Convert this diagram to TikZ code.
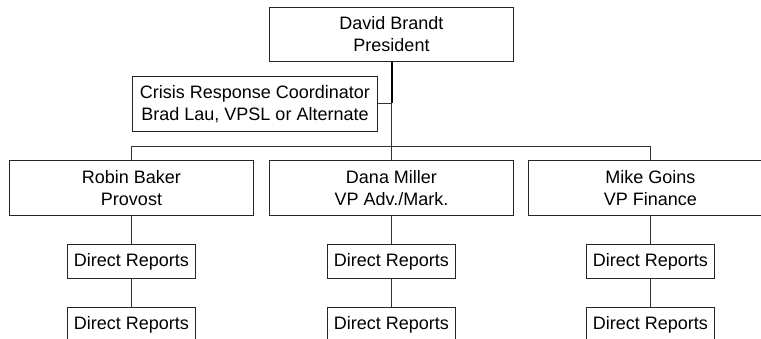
\documentclass[tikz,border=0pt]{standalone}
\usepackage{fontspec}
\setmainfont{Liberation Sans}
\usetikzlibrary{positioning}

\begin{document}
\begin{tikzpicture}[x=1pt, y=-1pt,
    every node/.style={font=\fontsize{18}{22}\selectfont},
    box/.style={draw=black!85, line width=1pt, align=center, inner sep=0pt},
    head/.style={box, minimum width=244pt, minimum height=55pt},
    report/.style={box, minimum width=128pt, minimum height=34pt},
    link/.style={draw=black!80, line width=1pt}]
  \useasboundingbox (-0.5,-0.5) rectangle (760.5,338.5);
  \clip (-0.5,-0.5) rectangle (760.5,338.5);

  % top of the chart
  \node[head, minimum height=54pt] (pres) at (391,34) {David Brandt\\President};
  \node[head, minimum width=245pt] (crisis) at (254.5,103.5)
    {Crisis Response Coordinator\\Brad Lau, VPSL or Alternate};

  % second row
  \node[head] (robin) at (131,187.5) {Robin Baker\\Provost};
  \node[head] (dana) at (391,187.5) {Dana Miller\\VP Adv./Mark.};
  \node[head] (mike) at (650,187.5) {Mike Goins\\VP Finance};

  \coordinate (hub) at (391,103);
  \coordinate (bar) at (391,146);

  \draw[line width=2pt] (pres.south) -- (hub);
  \draw[link] (hub -| crisis.east) -- (hub) -- (dana.north);
  \draw[link] (robin.north) |- (bar) -| (mike.north);

  % direct reports under each head
  \foreach \h/\x in {robin/131, dana/391, mike/650} {
    \node[report] (\h-r1) at (\x,261) {Direct Reports};
    \node[report] (\h-r2) at (\x,324) {Direct Reports};
    \draw[link] (\h.south) -- (\h-r1.north);
    \draw[link] (\h-r1.south) -- (\h-r2.north);
  }
\end{tikzpicture}
\end{document}
